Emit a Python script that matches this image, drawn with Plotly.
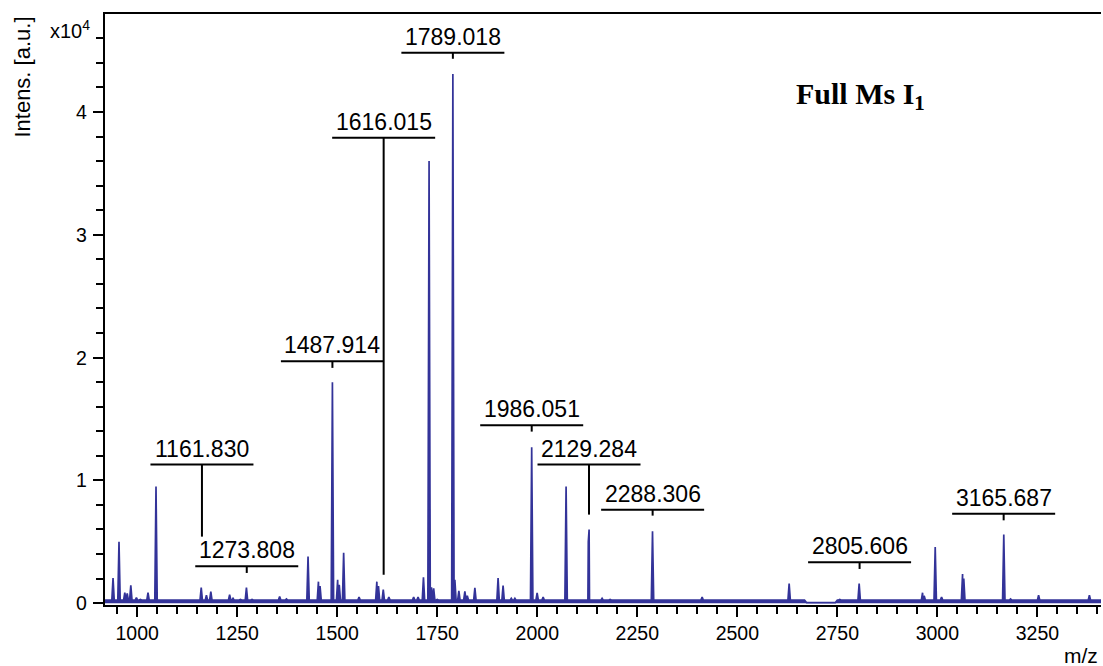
import plotly.graph_objects as go

# ---------------- data ----------------
# peak positions (m/z) and intensities (a.u.)
peak_mz = [939.6, 954.5, 969, 975, 984, 998, 1008, 1027, 1047, 1081, 1114.5, 1139.5,
           1160, 1173, 1184, 1231, 1239.5, 1258, 1273, 1287, 1296, 1356, 1373,
           1427, 1453, 1457, 1487.9, 1501, 1505, 1516, 1554.5, 1574.5, 1599, 1603,
           1615, 1629, 1662, 1691, 1702, 1715.5, 1729.5, 1735.5, 1741, 1750, 1759.5,
           1789, 1794, 1804, 1819, 1825, 1844, 1885, 1902, 1914.5, 1935, 1944, 1975,
           1986, 1999.6, 2014.6, 2072, 2127.5, 2129.5, 2162, 2182, 2288, 2412,
           2629.5, 2756, 2804.5, 2963, 2967, 2994.6, 3010.5, 3063, 3066, 3166, 3183,
           3253, 3380]
peak_int = [2050, 5000, 850, 800, 1450, 450, 300, 850, 9500, 300, 300, 300,
            1260, 650, 940, 700, 400, 300, 1260, 300, 250, 550, 350,
            3800, 1750, 1400, 18000, 1900, 1500, 4100, 500, 300, 1750, 1400,
            1100, 500, 300, 500, 500, 2100, 36000, 1300, 1200, 300, 300,
            43100, 1900, 1000, 960, 600, 1240, 300, 2050, 1430, 400, 400, 300,
            12700, 830, 500, 9500, 5000, 6000, 400, 300, 5850, 500,
            1590, 300, 1590, 850, 600, 4570, 500, 2380, 2000, 5580, 350,
            640, 640]

# baseline anchor points (m/z, intensity)
base_mz = [919, 2668, 2673, 2745, 2750, 3410]
base_int = [250, 250, 50, 50, 250, 250]

# annotated peaks: label text position (underline level) and stem end
label_mz = [1161.830, 1273.808, 1487.914, 1616.015, 1789.018,
            1986.051, 2129.284, 2288.306, 2805.606, 3165.687]
label_level = [11283, 2998, 19699, 37898, 44823,
               14485, 11283, 7617, 3324, 7291]
label_stem_end = [5418, 2460, 19161, 2322, 44334,
                  13971, 7210, 7128, 2786, 6745]

y_tickvals = [0, 10000, 20000, 30000, 40000]
y_ticktext = ["0", "1", "2", "3", "4"]

# ---------------- build spectrum line ----------------
HW = 3.0  # half width of a peak, m/z units
BASE = 250
pts = list(zip(base_mz, base_int))
for m, h in zip(peak_mz, peak_int):
    pts += [(m - HW, BASE), (m, h), (m + HW, BASE)]
pts.sort(key=lambda p: p[0])
xs = [p[0] for p in pts]
ys = [p[1] for p in pts]

BLUE = "#333399"
FONT = "Arial, Liberation Sans, sans-serif"

fig = go.Figure()
fig.add_trace(go.Scatter(x=xs, y=ys, mode="lines",
                         line=dict(color=BLUE, width=1.7),
                         fill="tozeroy", fillcolor=BLUE,
                         hoverinfo="skip", showlegend=False))

shapes = []
annotations = []
for m, lv, se in zip(label_mz, label_level, label_stem_end):
    shapes.append(dict(type="line", xref="x", yref="y", xsizemode="pixel",
                       xanchor=m, x0=-51.5, x1=51.5, y0=lv, y1=lv,
                       line=dict(color="black", width=2)))
    shapes.append(dict(type="line", xref="x", yref="y", x0=m, x1=m,
                       y0=lv, y1=se, line=dict(color="black", width=2)))
    annotations.append(dict(x=m, y=lv, xref="x", yref="y", text=f"{m:.3f}",
                            showarrow=False, yanchor="bottom", xanchor="center",
                            yshift=1, font=dict(family=FONT, size=23, color="black")))

# y tick labels (placed next to the tick marks)
for v, t in zip(y_tickvals, y_ticktext):
    annotations.append(dict(x=-0.0161, y=v, xref="paper", yref="y", text=t,
                            showarrow=False, xanchor="right", yanchor="middle",
                            font=dict(family=FONT, size=19.5, color="black")))

annotations += [
    dict(x=0.7585, y=0.862, xref="paper", yref="paper",
         text="<b>Full Ms I<sub>1</sub></b>", showarrow=False,
         xanchor="center", yanchor="middle",
         font=dict(family="Times New Roman, Liberation Serif, serif", size=30, color="black")),
    dict(x=-0.0823, y=0.8925, xref="paper", yref="paper", text="Intens. [a.u.]",
         textangle=-90, showarrow=False, xanchor="center", yanchor="middle",
         font=dict(family=FONT, size=22, color="black")),
    dict(x=-0.0351, y=0.974, xref="paper", yref="paper", text="x10<sup>4</sup>",
         showarrow=False, xanchor="center", yanchor="middle",
         font=dict(family=FONT, size=20, color="black")),
    dict(x=0.999, y=-0.086, xref="paper", yref="paper", text="m/z",
         showarrow=False, xanchor="right", yanchor="middle",
         font=dict(family=FONT, size=21, color="black")),
]

fig.update_layout(
    width=1103, height=666,
    margin=dict(l=105, r=2, t=14, b=61),
    paper_bgcolor="white", plot_bgcolor="white",
    shapes=shapes, annotations=annotations,
    font=dict(family=FONT, size=19.5, color="black"),
    xaxis=dict(range=[919.5, 3409], tickmode="linear", tick0=1000, dtick=250,
               ticks="outside", ticklen=10, tickwidth=1.5, tickcolor="black",
               minor=dict(dtick=50, tick0=1000, ticks="outside", ticklen=7,
                          tickwidth=1.5, tickcolor="black"),
               showline=True, linecolor="black", linewidth=2, mirror=True,
               showgrid=False, zeroline=False,
               tickfont=dict(family=FONT, size=19.5, color="black")),
    yaxis=dict(range=[-150, 47980], tickmode="array", tickvals=y_tickvals,
               showticklabels=False, ticks="outside", ticklen=10, tickwidth=1.5,
               tickcolor="black",
               minor=dict(dtick=2000, tick0=0, ticks="outside", ticklen=7,
                          tickwidth=1.5, tickcolor="black"),
               showline=True, linecolor="black", linewidth=2,
               showgrid=False, zeroline=False),
)

fig.write_html("out.html")
